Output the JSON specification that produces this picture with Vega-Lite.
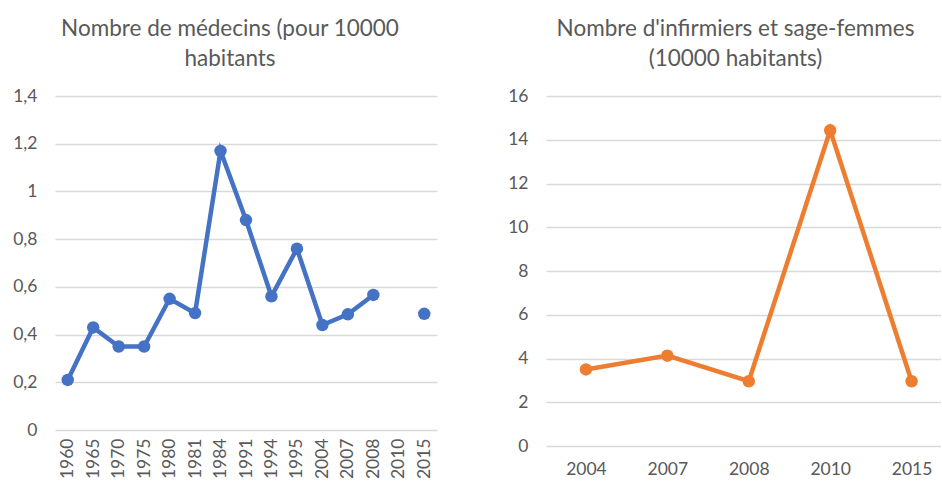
{
  "$schema": "https://vega.github.io/schema/vega-lite/v6.json",
  "padding": {"left": 12, "top": 17, "right": 0, "bottom": 0},
  "background": "white",
  "config": {
    "view": {"stroke": null},
    "font": "Lato",
    "axis": {
      "domain": false,
      "ticks": false,
      "labelFont": "Lato",
      "labelFontSize": 17.5,
      "labelColor": "#595959",
      "gridColor": "#d9d9d9",
      "gridWidth": 1.5,
      "title": null
    },
    "title": {"font": "Lato", "fontSize": 22.5, "fontWeight": "normal", "color": "#595959", "lineHeight": 30, "anchor": "middle"}
  },
  "spacing": 70,
  "hconcat": [
    {
      "width": 382,
      "height": 334,
      "title": {"text": ["Nombre de médecins (pour 10000", "habitants"], "dx": -16, "offset": 17},
      "data": {
        "values": [
          {"annee": "1960", "valeur": 0.21},
          {"annee": "1965", "valeur": 0.43},
          {"annee": "1970", "valeur": 0.35},
          {"annee": "1975", "valeur": 0.35},
          {"annee": "1980", "valeur": 0.55},
          {"annee": "1981", "valeur": 0.49},
          {"annee": "1984", "valeur": 1.17},
          {"annee": "1991", "valeur": 0.88},
          {"annee": "1994", "valeur": 0.56},
          {"annee": "1995", "valeur": 0.76},
          {"annee": "2004", "valeur": 0.44},
          {"annee": "2007", "valeur": 0.485},
          {"annee": "2008", "valeur": 0.566},
          {"annee": "2010", "valeur": null},
          {"annee": "2015", "valeur": 0.487}
        ]
      },
      "encoding": {
        "x": {"field": "annee", "type": "ordinal", "axis": {"labelAngle": -90, "labelPadding": 8, "grid": false}},
        "y": {"field": "valeur", "type": "quantitative", "scale": {"domain": [0, 1.4], "nice": false}, "axis": {"values": [0, 0.2, 0.4, 0.6, 0.8, 1, 1.2, 1.4], "labelPadding": 18, "labelExpr": "replace(format(datum.value, '.1~f'), '.', ',')"}}
      },
      "layer": [
        {"mark": {"type": "line", "color": "#4472C4", "strokeWidth": 4.5, "invalid": "break-paths-show-domains"}},
        {"mark": {"type": "point", "filled": true, "size": 155, "color": "#4472C4", "opacity": 1}}
      ]
    },
    {
      "width": 395,
      "height": 350,
      "title": {"text": ["Nombre d'infirmiers et sage-femmes", "(10000 habitants)"], "dx": -8, "offset": 17},
      "data": {
        "values": [
          {"annee": "2004", "valeur": 3.5},
          {"annee": "2007", "valeur": 4.13},
          {"annee": "2008", "valeur": 2.96},
          {"annee": "2010", "valeur": 14.43},
          {"annee": "2015", "valeur": 2.96}
        ]
      },
      "encoding": {
        "x": {"field": "annee", "type": "ordinal", "scale": {"type": "point", "padding": 0.426, "align": 0.576}, "axis": {"labelAngle": 0, "labelPadding": 14, "grid": false}},
        "y": {"field": "valeur", "type": "quantitative", "scale": {"domain": [0, 16], "nice": false}, "axis": {"values": [0, 2, 4, 6, 8, 10, 12, 14, 16], "labelPadding": 18}}
      },
      "layer": [
        {"mark": {"type": "line", "color": "#ED7D31", "strokeWidth": 4.5}},
        {"mark": {"type": "point", "filled": true, "size": 155, "color": "#ED7D31", "opacity": 1}}
      ]
    }
  ]
}
